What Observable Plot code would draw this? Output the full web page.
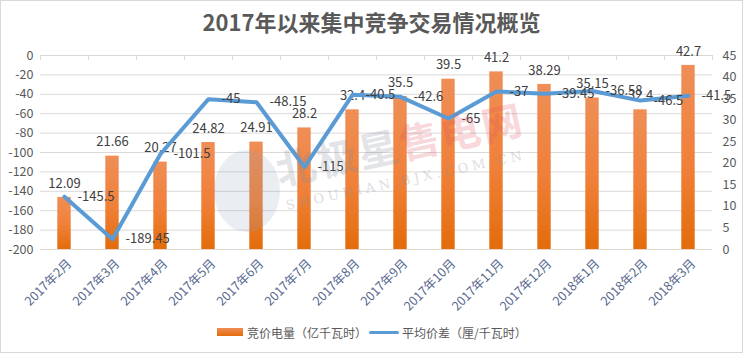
<!DOCTYPE html>
<html><head><meta charset="utf-8">
<script src="https://cdn.jsdelivr.net/npm/d3@7"></script>
<script src="https://cdn.jsdelivr.net/npm/@observablehq/plot@0.6"></script>
<style>
body{margin:0;background:#fff;font-family:"Noto Sans CJK SC","Noto Sans",sans-serif;}
#wrap{position:relative;width:743px;height:353px;overflow:hidden;background:#fff}
#frame{position:absolute;left:0;top:0;width:743px;height:353px;box-sizing:border-box;border:1px solid #d9d9d9;pointer-events:none}
#title{position:absolute;left:0;top:6px;width:743px;text-align:center;font-size:22px;font-weight:bold;color:#595959;line-height:30px}
#chart{position:absolute;left:0;top:0}
.lg{position:absolute;font-size:12px;color:#595959;line-height:16px;top:325px;white-space:nowrap}
#wm{position:absolute;left:0;top:0;width:743px;height:353px;pointer-events:none}
</style></head>
<body>
<div id="wrap">
  <div id="chart"></div>
  <div id="wm">
    <div style="position:absolute;left:214px;top:150px;width:66px;height:82px;border-radius:50%;background:#8aa0bf;opacity:0.18"></div>
    <div style="position:absolute;left:276px;top:140px;transform:rotate(-12deg);transform-origin:left center;font-size:40px;font-weight:bold;letter-spacing:2px;white-space:nowrap;opacity:0.22"><span style="color:#7f8a99">北极星</span><span style="color:#e0505a">售电网</span></div>
    <div style="position:absolute;left:286px;top:198px;transform:rotate(-12deg);transform-origin:left center;font-family:'DejaVu Serif',serif;font-size:13px;letter-spacing:4px;white-space:nowrap;color:#8a93a0;opacity:0.3">SHOUDIAN.BJX.COM.CN</div>
  </div>
  <div id="title">2017年以来集中竞争交易情况概览</div>
  <div style="position:absolute;left:217px;top:328px;width:26px;height:8px;background:linear-gradient(#f08c55,#e36c0a)"></div>
  <div class="lg" style="left:247px">竞价电量（亿千瓦时）</div>
  <div style="position:absolute;left:369px;top:331px;width:30px;height:3px;background:#5b9bd5;border-radius:2px"></div>
  <div class="lg" style="left:402px">平均价差（厘/千瓦时）</div>
  <div id="frame"></div>
</div>
<script>
const months = ["2017年2月","2017年3月","2017年4月","2017年5月","2017年6月","2017年7月","2017年8月","2017年9月","2017年10月","2017年11月","2017年12月","2018年1月","2018年2月","2018年3月"];
const volume = [12.09,21.66,20.27,24.82,24.91,28.2,32.4,35.5,39.5,41.2,38.29,35.15,32.4,42.7];
const spread = [-145.5,-189.45,-101.5,-45,-48.15,-115,-40.5,-42.6,-65,-37,-39.45,-36.58,-46.5,-41.5];
const leftTicks = d3.range(-200, 1, 20);
const rightTicks = d3.range(0, 46, 5);

const toLeft = v => v * 200 / 45 - 200;
const fromLeft = y => Math.round((y + 200) * 45 / 200);
const data = months.map((m, i) => ({m, v: volume[i], s: spread[i]}));

const font = "'Noto Sans CJK SC','Noto Sans',sans-serif";
const svg = Plot.plot({
  width: 743, height: 353,
  marginTop: 55, marginBottom: 104, marginLeft: 40, marginRight: 31,
  style: {fontFamily: font, fontSize: "12px", color: "#595959", background: "transparent"},
  x: {type: "band", domain: months, padding: 0},
  y: {domain: [-200, 0]},
  marks: [
    Plot.gridY(leftTicks, {stroke: "#d9d9d9", strokeOpacity: 1}),
    Plot.ruleX(months, {x: d => d, y1: 0, y2: -5, dx: -24, stroke: "#d9d9d9"}),
    Plot.ruleX([months[months.length - 1]], {x: d => d, y1: 0, y2: -5, dx: 24, stroke: "#d9d9d9"}),
    Plot.barY(data, {x: "m", y1: -200, y2: d => toLeft(d.v), fill: "url(#barGrad)", insetLeft: 17.3, insetRight: 17.3}),
    Plot.text(data, {x: "m", y: d => toLeft(d.v), text: d => String(d.v), dy: -14, fill: "#404040", fontSize: 13}),
    Plot.line(data, {x: "m", y: "s", stroke: "#5b9bd5", strokeWidth: 4, strokeLinejoin: "round", strokeLinecap: "round"}),
    Plot.text(data, {x: "m", y: "s", text: d => String(d.s), dx: 13, textAnchor: "start", fill: "#404040", fontSize: 13}),
    Plot.axisY(leftTicks, {anchor: "left", tickSize: 0, tickPadding: 7, tickFormat: d => String(d), fill: "#595959", fontSize: 12.5, label: null}),
    Plot.axisY(rightTicks.map(toLeft), {anchor: "right", tickSize: 0, tickPadding: 10, tickFormat: d => String(fromLeft(d)), fill: "#595959", fontSize: 12.5, label: null}),
    Plot.axisX({tickRotate: -45, tickSize: 0, tickPadding: 12, dx: 5, fill: "#56698f", fontSize: 12.5, label: null})
  ]
});
d3.select(svg).insert("defs", ":first-child").html(
  '<linearGradient id="barGrad" x1="0" y1="0" x2="0" y2="1">' +
  '<stop offset="0" stop-color="#f08e57"/><stop offset="0.55" stop-color="#ef8038"/><stop offset="1" stop-color="#e36c0a"/></linearGradient>');
document.getElementById("chart").appendChild(svg);
</script>
</body></html>
